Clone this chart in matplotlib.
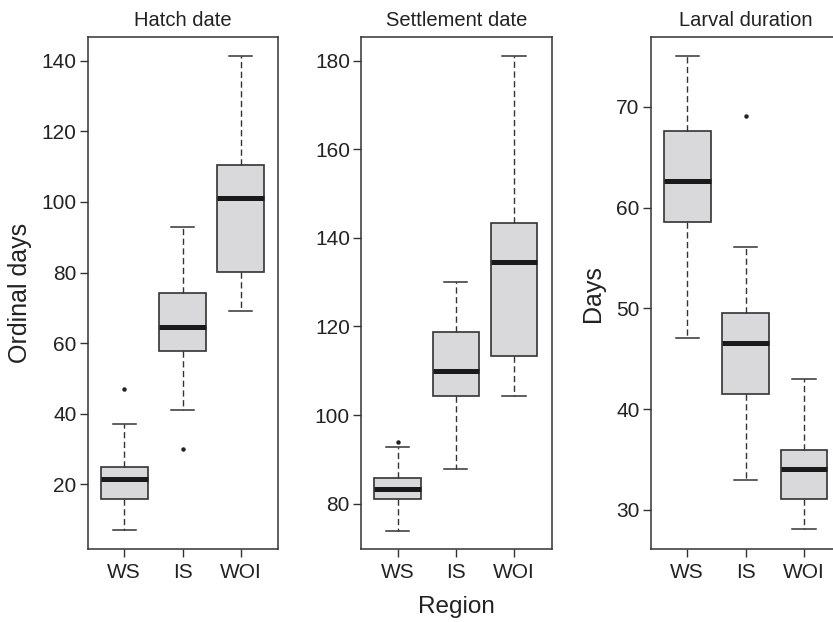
import matplotlib.pyplot as plt

plt.rcParams['font.family'] = ['Liberation Sans', 'DejaVu Sans']

regions = ["WS", "IS", "WOI"]
titles = ["Hatch date", "Settlement date", "Larval duration"]

# box summaries per panel, order WS, IS, WOI
hatch_lo = [7, 41, 69]
hatch_q1 = [16, 57.7, 80.2]
hatch_med = [21.6, 64.5, 101.2]
hatch_q3 = [24.8, 74.1, 110.4]
hatch_hi = [37, 93, 141.4]
hatch_out = [[47], [30], []]

settle_lo = [73.9, 87.9, 104.4]
settle_q1 = [81.1, 104.4, 113.4]
settle_med = [83.4, 110, 134.5]
settle_q3 = [85.8, 118.7, 143.3]
settle_hi = [92.9, 130, 181.1]
settle_out = [[93.9], [], []]

larval_lo = [47.1, 33.0, 28.1]
larval_q1 = [58.6, 41.5, 31.1]
larval_med = [62.6, 46.6, 34.1]
larval_q3 = [67.6, 49.5, 36.0]
larval_hi = [75.0, 56.1, 43.0]
larval_out = [[], [69.1], []]

panels = [
    (hatch_lo, hatch_q1, hatch_med, hatch_q3, hatch_hi, hatch_out, (1.64, 146.6), [20, 40, 60, 80, 100, 120, 140]),
    (settle_lo, settle_q1, settle_med, settle_q3, settle_hi, settle_out, (69.7, 185.3), [80, 100, 120, 140, 160, 180]),
    (larval_lo, larval_q1, larval_med, larval_q3, larval_hi, larval_out, (26.1, 76.9), [30, 40, 50, 60, 70]),
]

fig = plt.figure(figsize=(8.33, 6.22), dpi=100)
lefts = [0.1053, 0.4334, 0.7812]
txt = '#222222'
edge = '#333333'

for i, (lo, q1, med, q3, hi, out, ylim, yt) in enumerate(panels):
    ax = fig.add_axes([lefts[i], 0.1169, 0.2288, 0.8232])
    stats = []
    for j in range(3):
        stats.append(dict(whislo=lo[j], q1=q1[j], med=med[j], q3=q3[j],
                          whishi=hi[j], fliers=out[j]))
    ax.bxp(stats, positions=[1, 2, 3], widths=0.8, capwidths=0.4,
           patch_artist=True, showfliers=True,
           boxprops=dict(facecolor='#d9d9db', edgecolor=edge, linewidth=1.2),
           medianprops=dict(color='#1a1a1a', linewidth=3.6, solid_capstyle='butt'),
           whiskerprops=dict(color=edge, linewidth=1.0, linestyle=(0, (4.5, 2.5))),
           capprops=dict(color=edge, linewidth=1.1),
           flierprops=dict(marker='o', markersize=2.2, markerfacecolor='#222222',
                           markeredgecolor='#222222'))
    ax.set_xlim(0.374, 3.643)
    ax.set_ylim(*ylim)
    ax.set_yticks(yt)
    ax.set_xticks([1, 2, 3])
    ax.set_xticklabels(regions)
    ax.tick_params(labelsize=15, colors=edge, labelcolor=txt, length=6, width=1.0)
    ax.tick_params(axis='y', pad=2)
    ax.tick_params(axis='x', pad=4)
    for s in ax.spines.values():
        s.set_color(edge)
        s.set_linewidth(1.1)
    ax.set_title(titles[i], fontsize=14.5, color=txt, pad=8)
    if i == 0:
        ax.set_ylabel("Ordinal days", fontsize=18, color=txt, labelpad=7)
    if i == 1:
        ax.set_xlabel("Region", fontsize=17.5, color=txt, labelpad=10)
    if i == 2:
        ax.set_ylabel("Days", fontsize=18, color=txt, labelpad=8)

fig.savefig("out.png", dpi=100)
